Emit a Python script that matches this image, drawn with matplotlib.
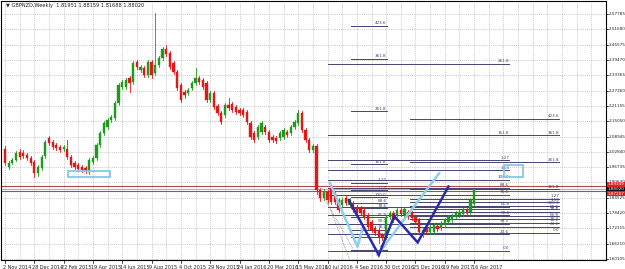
import matplotlib
matplotlib.use('Agg')
import matplotlib.pyplot as plt
import matplotlib.transforms as mtrans
from matplotlib.patches import Rectangle

# ---------------- data ----------------
opens = [2.040,1.968,1.984,1.996,2.028,2.024,2.016,2.004,1.988,1.944,
         1.964,2.012,2.083,2.067,2.056,2.048,2.040,2.040,2.008,1.984,
         1.976,1.968,1.964,1.948,1.988,2.004,2.056,2.103,2.127,2.155,
         2.163,2.223,2.287,2.287,2.323,2.307,2.386,2.354,2.362,2.334,
         2.386,2.342,2.374,2.402,2.438,2.422,2.382,2.346,2.295,2.267,
         2.263,2.283,2.303,2.323,2.315,2.303,2.235,2.263,2.211,2.183,
         2.175,2.215,2.219,2.207,2.195,2.195,2.187,2.143,2.103,2.087,
         2.107,2.127,2.107,2.087,2.083,2.083,2.087,2.107,2.103,2.127,
         2.143,2.183,2.115,2.075,2.036,2.052,1.876,1.844,1.868,1.884,
         1.864,1.836,1.816,1.844,1.816,1.824,1.808,1.804,1.796,1.776,
         1.749,1.725,1.717,1.697,1.689,1.768,1.784,1.776,1.796,1.776,
         1.788,1.784,1.768,1.756,1.697,1.729,1.709,1.709,1.733,1.725,
         1.737,1.749,1.756,1.768,1.776,1.780,1.796,1.788,1.81951]
closes = [1.984,1.984,1.996,2.024,2.008,2.012,2.004,1.984,1.944,1.968,
          2.008,2.067,2.064,2.048,2.044,2.036,2.048,2.008,1.976,1.968,
          1.960,1.956,1.952,1.996,2.004,2.056,2.103,2.143,2.155,2.167,
          2.223,2.295,2.307,2.315,2.303,2.382,2.366,2.366,2.334,2.386,
          2.334,2.374,2.402,2.438,2.418,2.366,2.346,2.283,2.235,2.255,
          2.275,2.303,2.323,2.307,2.287,2.235,2.263,2.207,2.183,2.147,
          2.215,2.203,2.195,2.187,2.183,2.175,2.147,2.087,2.075,2.127,
          2.143,2.107,2.075,2.075,2.071,2.103,2.115,2.095,2.127,2.147,
          2.183,2.115,2.075,2.036,2.052,1.876,1.844,1.868,1.836,1.828,
          1.828,1.796,1.836,1.824,1.836,1.796,1.788,1.784,1.768,1.729,
          1.717,1.705,1.689,1.685,1.768,1.784,1.756,1.796,1.780,1.800,
          1.768,1.764,1.749,1.709,1.717,1.709,1.729,1.737,1.721,1.745,
          1.756,1.768,1.772,1.784,1.788,1.796,1.784,1.836,1.88020]
highs = [2.052,1.992,2.004,2.032,2.040,2.036,2.024,2.012,1.996,1.976,
         2.016,2.075,2.091,2.075,2.064,2.056,2.056,2.075,2.016,1.992,
         1.984,1.976,1.972,2.004,2.012,2.064,2.111,2.151,2.163,2.175,
         2.231,2.303,2.315,2.323,2.331,2.390,2.394,2.374,2.370,2.394,
         2.394,2.582,2.410,2.446,2.454,2.430,2.390,2.354,2.303,2.275,
         2.283,2.311,2.362,2.331,2.323,2.311,2.271,2.271,2.219,2.191,
         2.223,2.243,2.227,2.215,2.203,2.203,2.195,2.151,2.111,2.135,
         2.151,2.135,2.115,2.095,2.091,2.111,2.123,2.115,2.135,2.155,
         2.195,2.191,2.123,2.083,2.060,2.060,1.884,1.880,1.876,1.896,
         1.872,1.844,1.844,1.852,1.844,1.832,1.816,1.812,1.804,1.784,
         1.756,1.733,1.725,1.705,1.776,1.792,1.792,1.804,1.804,1.808,
         1.796,1.792,1.776,1.764,1.725,1.737,1.737,1.745,1.741,1.752,
         1.764,1.776,1.780,1.792,1.796,1.804,1.804,1.844,1.88159]
lows = [1.976,1.960,1.980,1.992,2.000,2.004,1.996,1.976,1.928,1.932,
        1.956,2.004,2.056,2.040,2.036,2.028,2.032,2.000,1.968,1.960,
        1.952,1.948,1.944,1.940,1.980,1.996,2.048,2.095,2.119,2.147,
        2.155,2.215,2.279,2.279,2.267,2.299,2.358,2.346,2.326,2.326,
        2.323,2.334,2.366,2.394,2.410,2.358,2.338,2.275,2.227,2.243,
        2.255,2.275,2.295,2.299,2.279,2.227,2.227,2.199,2.175,2.139,
        2.167,2.195,2.187,2.179,2.175,2.167,2.139,2.079,2.067,2.079,
        2.099,2.099,2.067,2.067,2.063,2.075,2.079,2.087,2.095,2.119,
        2.135,2.107,2.067,2.028,2.028,1.860,1.832,1.836,1.824,1.820,
        1.820,1.788,1.808,1.816,1.808,1.788,1.780,1.776,1.760,1.721,
        1.709,1.697,1.665,1.677,1.681,1.760,1.749,1.768,1.772,1.768,
        1.760,1.756,1.741,1.701,1.689,1.701,1.701,1.701,1.713,1.717,
        1.729,1.741,1.749,1.760,1.768,1.772,1.776,1.780,1.81688]

date_labels = ['2 Nov 2014', '28 Dec 2014', '22 Feb 2015', '19 Apr 2015', '14 Jun 2015',
               '9 Aug 2015', '4 Oct 2015', '29 Nov 2015', '24 Jan 2016', '20 Mar 2016',
               '15 May 2016', '10 Jul 2016', '4 Sep 2016', '30 Oct 2016', '25 Dec 2016',
               '19 Feb 2017', '16 Apr 2017']
price_ticks = [1.60105, 1.66210, 1.72315, 1.78420, 1.84525, 1.90630, 1.96735, 2.02840,
               2.08945, 2.15050, 2.21155, 2.27260, 2.33365, 2.39470, 2.45575, 2.51680, 2.57785]

header = '\u25BC GBPNZD,Weekly  1.81951 1.88159 1.81688 1.88020'

# horizontal marker lines (price levels) and their axis tags
red_levels = [1.8935, 1.8721]
red_labels = ['1.89349', '1.87207']
red_tag_pos = [1.8985, 1.8620]
bid_price = 1.88020

# Fibonacci tools: (price of 0 level, price of 100 level, start bar, end bar)
fib_levels = [0, 23.6, 38.2, 50, 61.8, 78.6, 88.6, 100, 113, 127, 161.8, 261.8, 361.8, 423.6]
fib_texts = ['0.0', '23.6', '38.2', '50.0', '61.8', '78.6', '88.6', '100.0', '1.13', '1.27',
             '161.8', '261.8', '361.8', '423.6']
fib_a = (1.637, 1.848, 94.3, 104.1)
fib_b = (1.633, 1.918, 88.0, 137.6)
fib_c = (1.705, 1.8125, 110.4, 151.2)

# drawn pattern lines (bar index, price)
navy_x = [93.8, 102.0, 106.2, 112.6, 121.0]
navy_y = [1.836, 1.617, 1.772, 1.667, 1.890]
lblue1_x = [88.6, 96.2, 97.6]
lblue1_y = [1.906, 1.649, 1.725]
lblue2_x = [101.6, 118.5]
lblue2_y = [1.617, 1.944]
dot1_x = [86.5, 95.0]
dot1_y = [1.860, 1.640]
dot2_x = [88.0, 94.0]
dot2_y = [1.830, 1.600]

# boxes (bar0, bar1, price_lo, price_hi)
box1 = (17.2, 28.6, 1.928, 1.952)
box2 = (136.2, 141.4, 1.928, 1.976)

# ---------------- layout ----------------
W, H = 625, 269
L, R, T, B = 1, 606, 1, 260
s = 3.665            # px per bar
x0px = 5             # pixel of bar 0
ppu = 250.8          # px per price unit
yref_px, yref = 259, 1.60105

fig = plt.figure(figsize=(W / 100, H / 100), dpi=100)
fig.patch.set_facecolor('white')
ax = fig.add_axes([L / W, (H - B) / H, (R - L) / W, (B - T) / H])
xmin = -(x0px - L) / s
xmax = xmin + (R - L) / s
ymin = yref - (B - yref_px) / ppu
ymax = yref + (yref_px - T) / ppu
ax.set_xlim(xmin, xmax)
ax.set_ylim(ymin, ymax)
ax.set_xticks([])
ax.set_yticks([])
for sp in ax.spines.values():
    sp.set_color('black')
    sp.set_linewidth(0.8)

FONT = ['Liberation Sans Narrow', 'DejaVu Sans']

# grid
for p in price_ticks:
    ax.axhline(p, color='#b8b8b8', lw=0.5, ls=(0, (1.5, 1.5)), zorder=0)
for k in range(0, 44):
    ax.axvline(4 * k, color='#b8b8b8', lw=0.5, ls=(0, (1.5, 1.5)), zorder=0)

# red / bid lines
for p in red_levels:
    ax.axhline(p, color='#b04848', lw=0.8, zorder=1)
ax.axhline(bid_price, color='#a0a0a0', lw=0.6, zorder=1)

# fib tools
fib_col = '#44446e'
def draw_fib(tool):
    p0, p100, xa, xb = tool
    for lev, txt in zip(fib_levels, fib_texts):
        pr = p0 + (p100 - p0) * lev / 100.0
        if pr > ymax - 0.01:
            continue
        ax.plot([xa, xb], [pr, pr], color=fib_col, lw=0.7, zorder=2)
        ax.text(xb, pr + 0.002, txt, fontsize=3.0, color=fib_col, ha='right', va='bottom',
                family=FONT, zorder=2)
draw_fib(fib_a)
draw_fib(fib_b)
draw_fib(fib_c)

# candles
bw = 0.62
for i, (o, h, l, c) in enumerate(zip(opens, highs, lows, closes)):
    col = '#1f9a1f' if c >= o else '#e01818'
    ax.plot([i, i], [l, h], color=col, lw=0.6, zorder=3)
    ax.add_patch(Rectangle((i - bw / 2, min(o, c)), bw, max(abs(c - o), 0.002),
                           facecolor=col, edgecolor=col, lw=0.3, zorder=4))

# pattern lines
ax.plot(dot1_x, dot1_y, color='#707070', lw=0.5, ls=(0, (1, 1.2)), zorder=5)
ax.plot(dot2_x, dot2_y, color='#707070', lw=0.5, ls=(0, (1, 1.2)), zorder=5)
ax.plot(lblue1_x, lblue1_y, color='#8ecfee', lw=1.8, zorder=5, solid_capstyle='round')
ax.plot(lblue2_x, lblue2_y, color='#8ecfee', lw=1.8, zorder=5, solid_capstyle='round')
ax.plot(navy_x, navy_y, color='#2a2aa8', lw=1.8, zorder=6, solid_joinstyle='miter')

for bx in (box1, box2):
    ax.add_patch(Rectangle((bx[0], bx[2]), bx[1] - bx[0], bx[3] - bx[2], fill=False,
                           edgecolor='#86c8e6', lw=1.3, zorder=7))

# header
ax.text(0.3, ymax - 0.008, header, fontsize=3.6, color='#202020', ha='left', va='top',
        family=FONT, zorder=8)

# right price axis labels
tr = mtrans.blended_transform_factory(ax.transAxes, ax.transData)
for p in price_ticks:
    lab = '%.5f' % p
    ax.text(1.004, p, lab, transform=tr, fontsize=3.0, color='#202020', ha='left',
            va='center', family=FONT, clip_on=False)
    ax.plot([1.0, 1.003], [p, p], transform=tr, color='black', lw=0.5, clip_on=False)
for p, lab in zip(red_tag_pos, red_labels):
    ax.text(1.003, p, lab, transform=tr, fontsize=3.0, color='white', ha='left', va='center',
            family=FONT, clip_on=False, zorder=9,
            bbox=dict(boxstyle='square,pad=0.1', facecolor='#e02020', edgecolor='none'))
ax.text(1.003, bid_price, '%.5f' % bid_price, transform=tr, fontsize=3.0, color='white',
        ha='left', va='center', family=FONT, clip_on=False, zorder=9,
        bbox=dict(boxstyle='square,pad=0.1', facecolor='#101010', edgecolor='none'))

# bottom date labels
trx = mtrans.blended_transform_factory(ax.transData, ax.transAxes)
for k, lab in enumerate(date_labels):
    xi = 8 * k
    ax.plot([xi, xi], [0, -0.012], transform=trx, color='black', lw=0.5, clip_on=False)
    ax.text(xi - 0.6, -0.018, lab, transform=trx, fontsize=3.5, color='#202020', ha='left',
            va='top', family=FONT, clip_on=False)

fig.savefig('out.png', dpi=100, facecolor='white')
